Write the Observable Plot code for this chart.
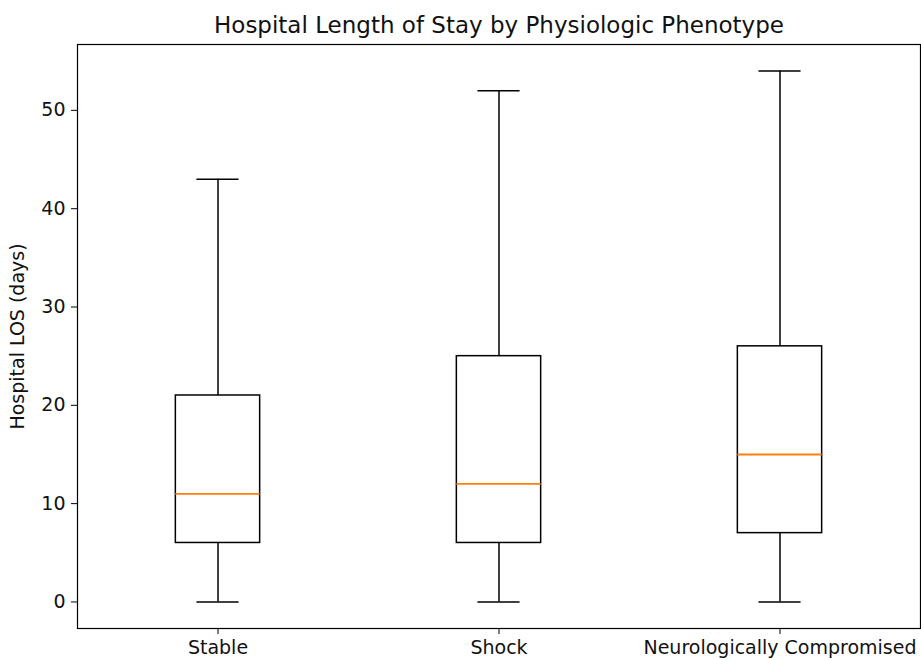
<!DOCTYPE html>
<html>
<head>
<meta charset="utf-8">
<script src="https://cdn.jsdelivr.net/npm/d3@7"></script>
<script src="https://cdn.jsdelivr.net/npm/@observablehq/plot@0.6"></script>
<style>
  html, body { margin: 0; padding: 0; background: #fff; }
  #chart { width: 921px; height: 660px; }
</style>
</head>
<body>
<div id="chart"></div>
<script>
const categories = ["Stable", "Shock", "Neurologically Compromised"];
const whiskerLow = [0, 0, 0];
const q1 = [6, 6, 7];
const median = [11, 12, 15];
const q3 = [21, 25, 26];
const whiskerHigh = [43, 52, 54];
const yTicks = [0, 10, 20, 30, 40, 50];
const title = "Hospital Length of Stay by Physiologic Phenotype";
const yLabel = "Hospital LOS (days)";

const boxHalf = 0.15;
const capHalf = 0.075;

const rows = categories.map((c, i) => ({
  name: c, pos: i + 1,
  lo: whiskerLow[i], q1: q1[i], med: median[i], q3: q3[i], hi: whiskerHigh[i]
}));

const chart = Plot.plot({
  width: 921,
  height: 660,
  marginLeft: 77,
  marginRight: 1,
  marginTop: 44,
  marginBottom: 32,
  style: { fontFamily: "DejaVu Sans", fontSize: "19px", color: "#000", background: "#fff" },
  x: { type: "linear", domain: [0.5, 3.5] },
  y: { domain: [-2.7, 56.7] },
  marks: [
    Plot.frame({ stroke: "#000", strokeWidth: 1.2 }),
    Plot.axisX({ ticks: [1, 2, 3], tickFormat: d => categories[d - 1], tickSize: 6, tickPadding: 6, fontSize: 19, label: null, fill: "#111" }),
    Plot.axisY({ ticks: yTicks, tickSize: 6, tickPadding: 6, fontSize: 19, label: yLabel, labelAnchor: "center", labelArrow: "none", labelOffset: 67, fill: "#111" }),
    // lower whisker
    Plot.ruleX(rows, { x: "pos", y1: "lo", y2: "q1", stroke: "#000", strokeWidth: 1.5 }),
    // upper whisker
    Plot.ruleX(rows, { x: "pos", y1: "q3", y2: "hi", stroke: "#000", strokeWidth: 1.5 }),
    // caps
    Plot.ruleY(rows, { y: "lo", x1: d => d.pos - capHalf, x2: d => d.pos + capHalf, stroke: "#000", strokeWidth: 1.5 }),
    Plot.ruleY(rows, { y: "hi", x1: d => d.pos - capHalf, x2: d => d.pos + capHalf, stroke: "#000", strokeWidth: 1.5 }),
    // box
    Plot.rect(rows, { x1: d => d.pos - boxHalf, x2: d => d.pos + boxHalf, y1: "q1", y2: "q3", fill: "none", stroke: "#000", strokeWidth: 1.5 }),
    // median
    Plot.ruleY(rows, { y: "med", x1: d => d.pos - boxHalf, x2: d => d.pos + boxHalf, stroke: "#ff7f0e", strokeWidth: 1.8 }),
    // title
    Plot.text([title], { frameAnchor: "top", dy: -12, fontSize: 23, fill: "#111", lineAnchor: "bottom" })
  ]
});
document.getElementById("chart").appendChild(chart);
</script>
</body>
</html>
